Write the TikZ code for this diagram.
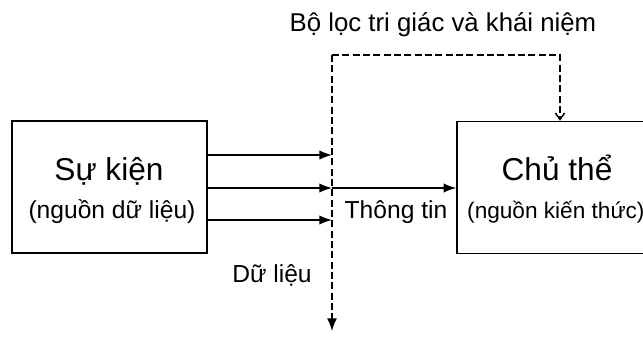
\documentclass[tikz,border=0pt]{standalone}
\usepackage{fontspec}
\setmainfont{Liberation Sans}
\usetikzlibrary{arrows.meta}

\begin{document}
\begin{tikzpicture}[x=0.3mm, y=-0.3mm, box/.style={draw, rectangle, line width=1.2pt, minimum width=58.5mm, minimum height=39.6mm}, big/.style={anchor=base, font=\fontsize{27}{30}\selectfont}, small/.style={anchor=base, font=\fontsize{21}{24}\selectfont}, n/.style={-{Latex[length=3.8mm, width=2.8mm]}, line width=1.2pt}, d/.style={line width=1.2pt, dash pattern=on 2.1mm off 1mm}]
            \path[use as bounding box, clip] (0,0) rectangle (643,338);
            % nodes
            \node[box] (src) at (109.5,187) {};
            \node[box, minimum width=61.8mm] (subj) at (560,187.5) {};
            \node[big] (srct) at (109,180) {Sự kiện};
            \node[small] (srcs) at (112,218) {(nguồn dữ liệu)};
            \node[big] (subjt) at (557,180) {Chủ thể};
            \node[small, anchor=base west, inner sep=0pt, font=\fontsize{19.3}{22}\selectfont] (subjs) at (467,218) {(nguồn kiến thức)};
            \node[small] (info) at (396,218) {Thông tin};
            \node[small] (data) at (272,282) {Dữ liệu};
            \node[small, font=\fontsize{22}{25}\selectfont] (filter) at (443,32) {Bộ lọc tri giác và khái niệm};
            \coordinate (ftop) at (332,55);
            \coordinate (fbot) at (332,331);
            \coordinate (f1) at (332,155);
            \coordinate (f2) at (332,188);
            \coordinate (f3) at (332,220);
            % edges
            \draw [n] (src.east |- f1) -- (f1);
            \draw [n] (src.east |- f2) -- (f2);
            \draw [n] (src.east |- f3) -- (f3);
            \draw [n] (f2) -- (subj.west |- f2);
            \draw [d, -{Latex[length=3.8mm, width=3mm]}] (ftop) -- (fbot);
            \draw [d, -{Straight Barb[length=2mm, width=2.8mm]}] (ftop) -| (subj.north);
        \end{tikzpicture}
\end{document}
